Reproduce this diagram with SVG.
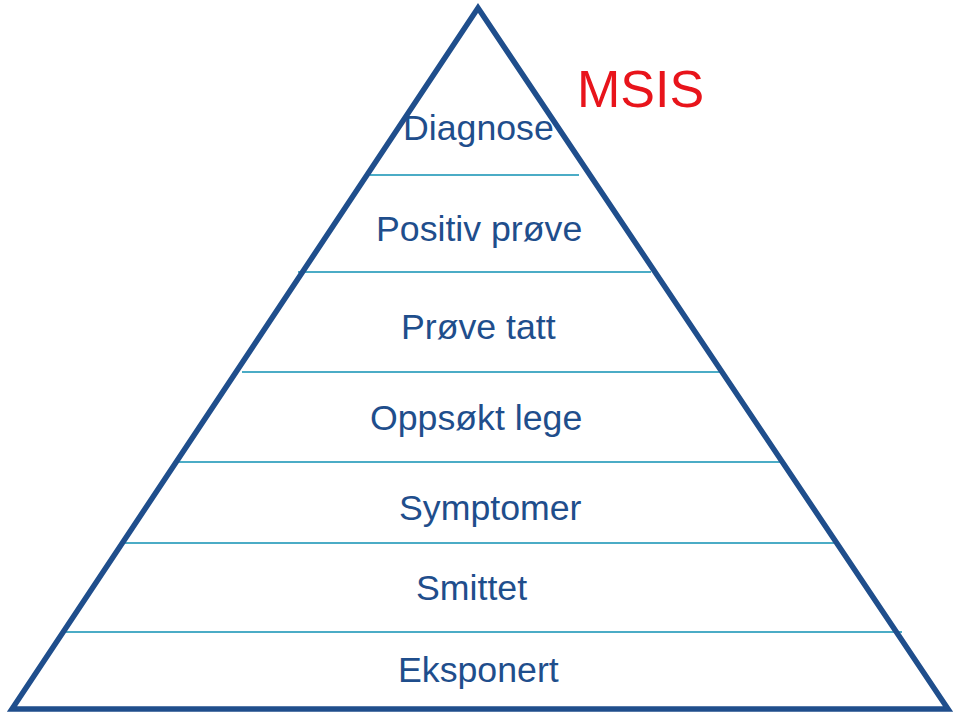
<svg xmlns="http://www.w3.org/2000/svg" width="960" height="719" viewBox="0 0 960 719">
<style>
.lbl{font-family:"Liberation Sans",Arial,sans-serif;font-size:35.7px;fill:#1F4E8C}
.sep{stroke:#4BACC6;stroke-width:1.8}
</style>
<rect width="960" height="719" fill="#fff"/>
<g id="connectors">
<line class="sep" x1="370" y1="175" x2="579" y2="175"/>
<line class="sep" x1="298" y1="272" x2="651" y2="272"/>
<line class="sep" x1="242" y1="372" x2="722" y2="372"/>
<line class="sep" x1="178" y1="462" x2="783" y2="462"/>
<line class="sep" x1="124" y1="543" x2="838" y2="543"/>
<line class="sep" x1="63" y1="632" x2="902" y2="632"/>
</g>
<g id="pyramid">
<polygon points="478,8 12,709 948,709" fill="none" stroke="#1F4E8C" stroke-width="5.5" stroke-linejoin="miter"/>
</g>
<g id="diagnose"><text class="lbl" x="403" y="140">Diagnose</text></g>
<g id="positiv"><text class="lbl" x="376" y="241">Positiv prøve</text></g>
<g id="provetatt"><text class="lbl" x="401" y="339">Prøve tatt</text></g>
<g id="oppsokt"><text class="lbl" x="370" y="430">Oppsøkt lege</text></g>
<g id="symptomer"><text class="lbl" x="399" y="520">Symptomer</text></g>
<g id="smittet"><text class="lbl" x="416" y="600">Smittet</text></g>
<g id="eksponert"><text class="lbl" x="398" y="682">Eksponert</text></g>
<g id="msis"><text x="577" y="107" font-family="Liberation Sans,Arial,sans-serif" font-size="52" fill="#E8141B">MSIS</text></g>
</svg>
